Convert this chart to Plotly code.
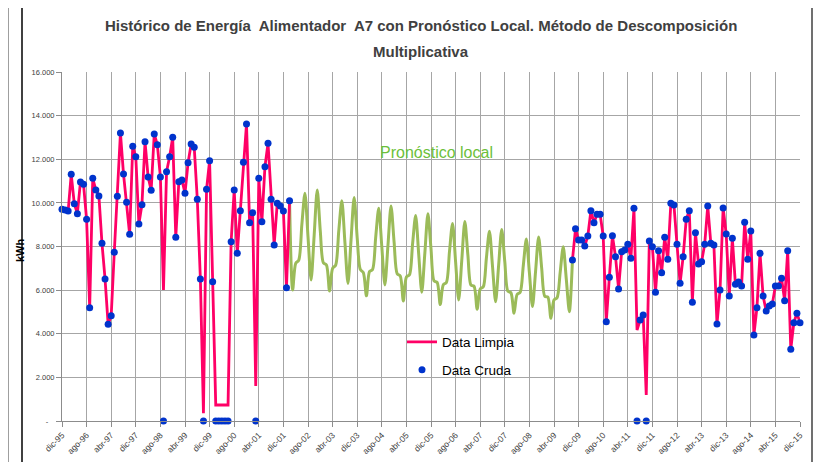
import plotly.graph_objects as go

# ---------------- data ----------------
meses = ["ene", "feb", "mar", "abr", "may", "jun", "jul", "ago", "sep", "oct", "nov", "dic"]
# monthly categories dic-95 ... dic-15
categorias = [f"{meses[(11 + k) % 12]}-{(1995 + (11 + k) // 12) % 100:02d}" for k in range(241)]

etiquetas_x = ["dic-95", "ago-96", "abr-97", "dic-97", "ago-98", "abr-99", "dic-99", "ago-00",
               "abr-01", "dic-01", "ago-02", "abr-03", "dic-03", "ago-04", "abr-05", "dic-05",
               "ago-06", "abr-07", "dic-07", "ago-08", "abr-09", "dic-09", "ago-10", "abr-11",
               "dic-11", "ago-12", "abr-13", "dic-13", "ago-14", "abr-15", "dic-15"]

ticks_y = [0, 2000, 4000, 6000, 8000, 10000, 12000, 14000, 16000]
etiquetas_y = ["-\u00a0\u00a0\u00a0", "2.000", "4.000", "6.000", "8.000", "10.000", "12.000", "14.000", "16.000"]

# Data Limpia, dic-95 .. feb-02
limpia_1 = [9706, 9675, 9630, 11310, 9963, 9505, 10958, 10850, 9247, 5195,
            11128, 10591, 10316, 8147, 6511, 4433, 4828, 7735, 10302, 13205,
            11325, 10027, 8560, 12595, 12118, 9032, 9917, 12806, 11187, 10578,
            13159, 12668, 11187, 6006, 11432, 12118, 13007, 8422, 10973, 11050,
            10440, 11843, 12700, 12548, 10165, 6511, 353, 10623, 11935, 6387,
            734, 734, 734, 734, 734, 8221, 10591, 7689, 9642, 11861,
            13617, 9092, 9550, 1605, 11128, 9138, 11660, 12732, 10165, 8070,
            9982, 9858, 9630, 6113, 10101]
# Data Cruda, dic-95 .. feb-02
cruda_1 = [9706, 9675, 9630, 11310, 9963, 9505, 10958, 10850, 9247, 5195,
           11128, 10591, 10316, 8147, 6511, 4433, 4828, 7735, 10302, 13205,
           11325, 10027, 8560, 12595, 12118, 9032, 9917, 12806, 11187, 10578,
           13159, 12668, 11187, 0, 11432, 12118, 13007, 8422, 10973, 11050,
           10440, 11843, 12700, 12548, 10165, 6511, 0, 10623, 11935, 6387,
           0, 0, 0, 0, 0, 8221, 10591, 7689, 9642, 11861,
           13617, 9092, 9550, 0, 11128, 9138, 11660, 12732, 10165, 8070,
           9982, 9858, 9630, 6113, 10101]
# Pronostico local, feb-02 .. oct-09
pronostico = [10101, 6006, 7230, 7380, 9000, 10440, 8450, 6465, 8500, 10591,
              8700, 7250, 7150, 5960, 7000, 7150, 8700, 10100, 8200, 6300,
              8300, 10250, 8400, 6950, 6800, 5740, 6850, 6950, 8400, 9750,
              8000, 6240, 8050, 9860, 8200, 6750, 6650, 5500, 6600, 6700,
              8100, 9420, 7650, 5900, 7700, 9500, 7900, 6420, 6350, 5340,
              6250, 6350, 7750, 9060, 7300, 5550, 7350, 9150, 7600, 6230,
              6180, 5120, 6050, 6150, 7450, 8700, 7100, 5470, 7150, 8780,
              7300, 5950, 5880, 4936, 5800, 5900, 7100, 8340, 6800, 5250,
              6850, 8430, 7000, 5720, 5680, 4707, 5550, 5650, 6800, 7992,
              6500, 5011, 7382]
# Data Limpia, oct-09 .. dic-15
limpia_2 = [7382, 8818, 8299, 8299, 8024, 8482, 9642, 9092, 9477, 9477,
            8482, 4554, 6587, 8497, 7533, 6052, 7762, 7840, 8102, 7460,
            9752, 4172, 4631, 4860, 1192, 8253, 7993, 5900, 7809, 6801,
            8421, 7414, 9981, 9904, 8100, 6312, 7533, 9248, 9642, 5442,
            8634, 7198, 7305, 8100, 9858, 8147, 8070, 4447, 6006, 9766,
            8574, 5731, 8375, 6266, 6373, 6190, 9110, 7414, 8711, 3943,
            5195, 7687, 5731, 5043, 5272, 5364, 6190, 6190, 6541, 5516,
            7809, 3287, 4508, 4937, 4508]
# Data Cruda, oct-09 .. dic-15
cruda_2 = [7382, 8818, 8299, 8299, 8024, 8482, 9642, 9092, 9477, 9477,
           8482, 4554, 6587, 8497, 7533, 6052, 7762, 7840, 8102, 7460,
           9752, 0, 4631, 4860, 0, 8253, 7993, 5900, 7809, 6801,
           8421, 7414, 9981, 9904, 8100, 6312, 7533, 9248, 9642, 5442,
           8634, 7198, 7305, 8100, 9858, 8147, 8070, 4447, 6006, 9766,
           8574, 5731, 8375, 6266, 6373, 6190, 9110, 7414, 8711, 3943,
           5195, 7687, 5731, 5043, 5272, 5364, 6190, 6190, 6541, 5516,
           7809, 3287, 4508, 4937, 4508]

# assemble full monthly series (gaps as None)
n = len(categorias)
inicio_pron = len(limpia_1) - 1
inicio_2 = n - len(limpia_2)
serie_limpia = limpia_1 + [None] * (inicio_2 - len(limpia_1)) + limpia_2
serie_cruda = cruda_1 + [None] * (inicio_2 - len(cruda_1)) + cruda_2
serie_pron = [None] * inicio_pron + pronostico + [None] * (n - inicio_pron - len(pronostico))

# ---------------- figure ----------------
FONT = "Liberation Sans, Arial, sans-serif"
GRID = "#a6a6a6"

fig = go.Figure()
fig.add_trace(go.Scatter(x=categorias, y=serie_pron, mode="lines", name="Pronóstico local",
                         line=dict(color="#9BBB59", width=3, shape="spline", smoothing=0.8),
                         showlegend=False, connectgaps=False))
fig.add_trace(go.Scatter(x=categorias, y=serie_limpia, mode="lines", name="Data Limpia",
                         line=dict(color="#FF0066", width=2.8), connectgaps=False,
                         legend="legend"))
fig.add_trace(go.Scatter(x=categorias, y=serie_cruda, mode="markers", name="Data Cruda",
                         marker=dict(color="#0033CC", size=7), cliponaxis=False,
                         legend="legend2"))

# the page shows the figure offset by the 8 px body margin
W, H = 825, 462
L, T = 54, 64
pw, ph = 738, 349
R, B = W - L - pw, H - T - ph
px = lambda v: (v - 62) / pw      # reference-pixel -> paper
py = lambda v: (421 - v) / ph

fig.update_layout(
    width=W, height=H,
    margin=dict(l=L, r=R, t=T, b=B, autoexpand=False),
    paper_bgcolor="white", plot_bgcolor="white",
    font=dict(family=FONT, color="#404040"),
    xaxis=dict(type="category", categoryorder="array", categoryarray=categorias,
               range=[0, n - 1], tickmode="array", tickvals=etiquetas_x, ticktext=etiquetas_x,
               tickangle=-45, tickfont=dict(size=8.5, color="#404040"), automargin=False,
               showgrid=True, gridcolor=GRID, gridwidth=1,
               showline=True, linecolor="#8c8c8c", linewidth=1,
               ticks="outside", ticklen=5, tickcolor="#8c8c8c"),
    yaxis=dict(range=[0, 16000], tickmode="array", tickvals=ticks_y, ticktext=etiquetas_y,
               tickfont=dict(size=7.5, color="#404040"), automargin=False,
               showgrid=True, gridcolor=GRID, gridwidth=1, zeroline=False,
               showline=True, linecolor="#8c8c8c", linewidth=1,
               ticks="outside", ticklen=5, tickcolor="#8c8c8c"),
    legend=dict(x=px(402), y=py(342), xanchor="left", yanchor="middle",
                bgcolor="rgba(0,0,0,0)", font=dict(size=13.5, color="black", family=FONT)),
    legend2=dict(x=px(402), y=py(370), xanchor="left", yanchor="middle",
                 bgcolor="rgba(0,0,0,0)", font=dict(size=13.5, color="black", family=FONT)),
    annotations=[
        dict(text="<b>Histórico de Energía  Alimentador  A7 con Pronóstico Local. Método de Descomposición</b>",
             xref="paper", yref="paper", x=px(421), y=py(25), xanchor="center", yanchor="middle",
             showarrow=False, font=dict(size=15, color="#404040", family=FONT)),
        dict(text="<b>Multiplicativa</b>",
             xref="paper", yref="paper", x=px(421), y=py(52), xanchor="center", yanchor="middle",
             showarrow=False, font=dict(size=15, color="#404040", family=FONT)),
        dict(text="<b>kWh</b>", xref="paper", yref="paper", x=px(20), y=py(250),
             xanchor="center", yanchor="middle", textangle=-90, showarrow=False,
             font=dict(size=11, color="black", family=FONT)),
        dict(text="Pronóstico local", xref="paper", yref="paper", x=px(436), y=py(152),
             xanchor="center", yanchor="middle", showarrow=False,
             font=dict(size=16, color="#6CBF3A", family=FONT)),
    ],
    shapes=[
        dict(type="line", xref="paper", yref="paper", x0=px(8), x1=px(8), y0=py(-10), y1=py(H + 10),
             line=dict(color="#7f7f7f", width=1.5)),
        dict(type="line", xref="paper", yref="paper", x0=px(22), x1=px(22), y0=py(4), y1=py(H + 10),
             line=dict(color="black", width=1.5)),
        dict(type="line", xref="paper", yref="paper", x0=px(22), x1=px(812), y0=py(4), y1=py(4),
             line=dict(color="#7f7f7f", width=1.5)),
        dict(type="line", xref="paper", yref="paper", x0=px(812), x1=px(812), y0=py(4), y1=py(H + 10),
             line=dict(color="#404040", width=1.5)),
    ],
)

fig.write_html("out.html")
